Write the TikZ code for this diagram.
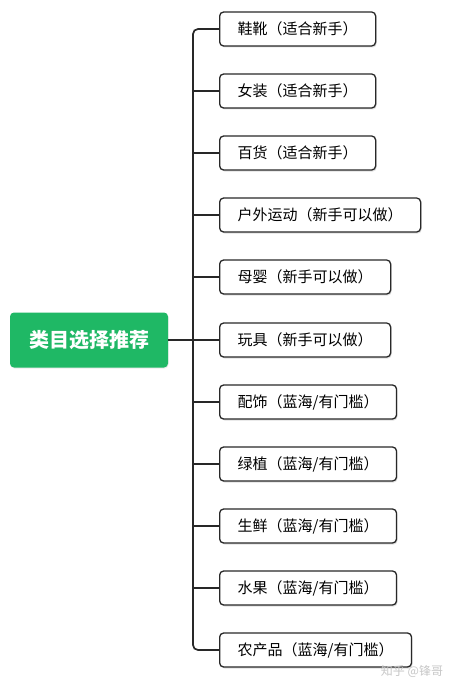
\documentclass[tikz,border=0pt]{standalone}
\usepackage{fontspec}
\setmainfont{Noto Sans CJK SC}
\usetikzlibrary{shadows}
\definecolor{rootgreen}{RGB}{31,184,101}
\definecolor{linegray}{RGB}{40,40,40}
\begin{document}
\begin{tikzpicture}[x=1pt,y=-1pt,
  leaf/.style={draw=linegray,line width=1.3pt,fill=white,rounded corners=4pt,
    anchor=west,minimum height=34pt,inner xsep=18pt,inner ysep=0pt,
    font=\fontsize{15}{18}\selectfont,text=black,
    drop shadow={opacity=0.25,shadow xshift=1pt,shadow yshift=-1.5pt}},
  rootbox/.style={fill=rootgreen,rounded corners=4pt,minimum width=158pt,minimum height=55pt,
    text=white,font=\fontsize{20}{24}\selectfont\bfseries,inner sep=0pt,
    drop shadow={opacity=0.15,shadow xshift=0.5pt,shadow yshift=-1pt}},
  conn/.style={draw=linegray,line width=1.7pt}]
\useasboundingbox (0,0) rectangle (459,690);
\fill[white] (0,0) rectangle (459,690);
\node[rootbox] (root) at (89,340) {类目选择推荐};
\coordinate (trunk) at (193,340);
\node[leaf] (b1) at (219,29) {鞋靴（适合新手）};
\node[leaf] (b2) at (219,91) {女装（适合新手）};
\node[leaf] (b3) at (219,153) {百货（适合新手）};
\node[leaf] (b4) at (219,215) {户外运动（新手可以做）};
\node[leaf] (b5) at (219,277) {母婴（新手可以做）};
\node[leaf] (b6) at (219,340) {玩具（新手可以做）};
\node[leaf] (b7) at (219,402) {配饰（蓝海/有门槛）};
\node[leaf] (b8) at (219,464) {绿植（蓝海/有门槛）};
\node[leaf] (b9) at (219,526) {生鲜（蓝海/有门槛）};
\node[leaf] (b10) at (219,588) {水果（蓝海/有门槛）};
\node[leaf] (b11) at (219,650) {农产品（蓝海/有门槛）};
\draw[conn] (root.east) -- (trunk);
\draw[conn,rounded corners=5pt] (b1.west) -| (trunk) |- (b11.west);
\foreach \i in {2,...,10} {\draw[conn] (b\i.west) -- (b\i.west -| trunk);}
\node[text=black!22,font=\fontsize{12}{14}\selectfont] (wm) at (412,671) {知乎 @锋哥};
\end{tikzpicture}
\end{document}
